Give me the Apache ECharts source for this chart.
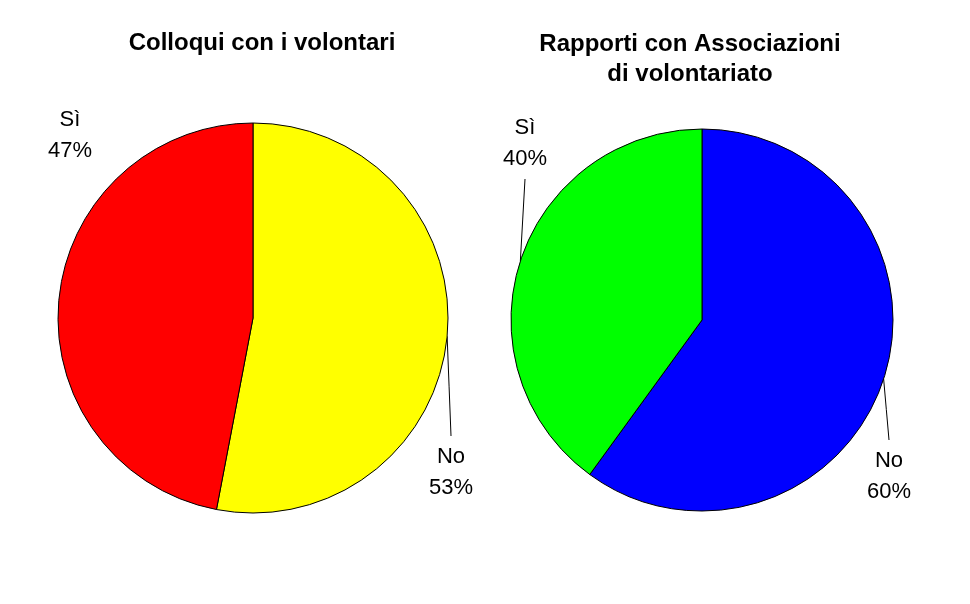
<!DOCTYPE html>
<html>
<head>
<meta charset="utf-8">
<script src="https://cdn.jsdelivr.net/npm/echarts@6/dist/echarts.min.js"></script>
<style>
html,body{margin:0;padding:0;background:#fff;}
#chart{width:970px;height:604px;}
</style>
</head>
<body>
<div id="chart"></div>
<script>
// ---- data ----
const titles = ["Colloqui con i volontari", "Rapporti con Associazioni\ndi volontariato"];
const categories = ["No", "Sì"];
const colloquiValues = [53, 47];
const rapportiValues = [60, 40];
const colloquiColors = ["#FFFF00", "#FF0000"];
const rapportiColors = ["#0000FF", "#00FF00"];

// ---- layout (positions / styles only) ----
const pieLayout = [
  { center: [253, 318], radius: 195 },
  { center: [702, 320], radius: 191 }
];
const titlePos = [[262, 43], [690, 59]];
// label placement: [labelX, labelY, showLine]
const labelPos = [
  [[451, 472, true], [70, 135, false]],
  [[889, 476, true], [525, 143, true]]
];

const FONT = '"Liberation Sans", Arial, sans-serif';

function makeSeries(idx, values, colors) {
  return {
    type: 'pie',
    center: pieLayout[idx].center,
    radius: pieLayout[idx].radius,
    startAngle: 90,
    clockwise: true,
    silent: true,
    animation: false,
    avoidLabelOverlap: false,
    data: categories.map((c, i) => ({
      name: c,
      value: values[i],
      itemStyle: { color: colors[i] },
      labelLine: { show: labelPos[idx][i][2] }
    })),
    itemStyle: { borderColor: '#000', borderWidth: 1 },
    label: {
      show: true,
      position: 'outside',
      alignTo: 'none',
      overflow: 'none',
      formatter: '{b}\n{c}%',
      fontFamily: FONT,
      fontSize: 22,
      lineHeight: 31,
      color: '#000',
      align: 'center'
    },
    labelLine: { show: true, lineStyle: { color: '#000', width: 1 } },
    labelLayout: function (p) {
      const lp = labelPos[idx][p.dataIndex];
      const res = { x: lp[0], y: lp[1], align: 'center', verticalAlign: 'middle', hideOverlap: false };
      if (lp[2] && p.labelLinePoints) {
        const start = p.labelLinePoints[0];
        const dir = start[1] > lp[1] ? 1 : -1;
        const end = [lp[0], lp[1] + dir * 36];
        res.labelLinePoints = [start, [(start[0] + end[0]) / 2, (start[1] + end[1]) / 2], end];
      }
      return res;
    }
  };
}

const chart = echarts.init(document.getElementById('chart'), null, { renderer: 'canvas' });
chart.setOption({
  backgroundColor: '#fff',
  animation: false,
  graphic: titles.map((t, i) => ({
    type: 'text',
    x: titlePos[i][0],
    y: titlePos[i][1],
    style: {
      text: t,
      font: 'bold 24px ' + FONT,
      fill: '#000',
      align: 'center',
      verticalAlign: 'middle',
      lineHeight: 30
    }
  })),
  series: [
    makeSeries(0, colloquiValues, colloquiColors),
    makeSeries(1, rapportiValues, rapportiColors)
  ]
});
</script>
</body>
</html>
